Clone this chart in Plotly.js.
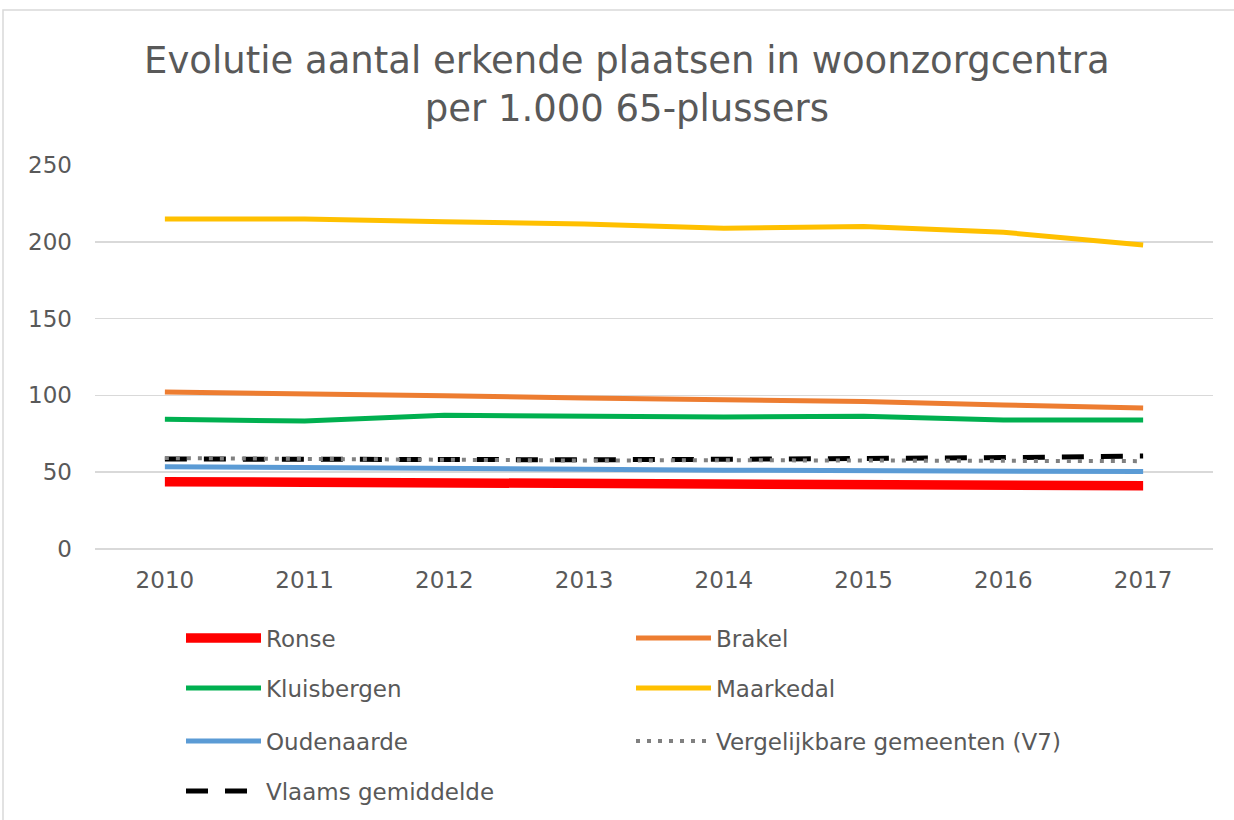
<!DOCTYPE html>
<html>
<head>
<meta charset="utf-8">
<script src="https://cdn.plot.ly/plotly-3.0.1.min.js"></script>
<style>html,body{margin:0;padding:0;background:#fff;}#chart{width:1234px;height:820px;}</style>
</head>
<body>
<div id="chart"></div>
<script>
const years = ["2010","2011","2012","2013","2014","2015","2016","2017"];
const ronse = [43.8, 43.6, 43.3, 42.8, 42.3, 42.0, 41.8, 41.2];
const brakel = [102.2, 101.4, 99.8, 98.3, 97.2, 96.0, 93.8, 91.8];
const kluisbergen = [84.4, 83.3, 87.0, 86.1, 86.0, 86.5, 84.0, 84.0];
const maarkedal = [214.8, 214.8, 213.1, 211.6, 208.8, 209.9, 206.2, 197.9];
const oudenaarde = [53.6, 53.3, 52.5, 51.9, 51.3, 51.0, 50.8, 50.4];
const v7 = [59.2, 58.6, 57.8, 57.6, 57.8, 57.8, 57.5, 57.2];
const vlaams = [58.6, 58.3, 58.0, 58.1, 58.4, 58.8, 59.5, 60.5];
const yTicks = [0, 50, 100, 150, 200, 250];

const FONT = "DejaVu Sans, Verdana, sans-serif";
const GRAY = "#595959";

function tr(name, y, color, width, dash, legend) {
  return {type:"scatter", mode:"lines", x: years, y: y, name: name,
    line:{color:color, width:width, dash:dash||"solid"}, legend: legend, hoverinfo:"skip"};
}

const data = [
  tr("Ronse", ronse, "#ff0000", 9.5, "solid", "legend"),
  tr("Brakel", brakel, "#ed7d31", 5, "solid", "legend"),
  tr("Kluisbergen", kluisbergen, "#00b050", 5, "solid", "legend2"),
  tr("Maarkedal", maarkedal, "#ffc000", 5, "solid", "legend2"),
  tr("Oudenaarde", oudenaarde, "#5b9bd5", 5, "solid", "legend3"),
  tr("Vlaams gemiddelde", vlaams, "#000000", 5, "22px,17px", "legend4"),
  tr("Vergelijkbare gemeenten (V7)", v7, "#808080", 4, "4px,7px", "legend3")
];

const plotL = 95, plotR = 21, plotT = 165, plotB = 271;
const plotW = 1234 - plotL - plotR, plotH = 820 - plotT - plotB;
function px2x(px){ return (px - plotL) / plotW; }
function px2y(py){ return (820 - plotB - py) / plotH; }

function leg(rowY){
  return {orientation:"h", x: px2x(181), xanchor:"left", y: px2y(rowY), yanchor:"middle",
    entrywidth: 360, entrywidthmode:"pixels", itemwidth: 75, traceorder:"normal",
    font:{family:FONT, size:23, color:GRAY}, bgcolor:"rgba(0,0,0,0)", borderwidth:0};
}

const layout = {
  width:1234, height:820,
  paper_bgcolor:"#ffffff", plot_bgcolor:"#ffffff",
  margin:{l:plotL, r:plotR, t:plotT, b:plotB, autoexpand:false},
  title:{text:"Evolutie aantal erkende plaatsen in woonzorgcentra<br>per 1.000 65-plussers",
    font:{family:FONT, size:37, color:GRAY}, x:0.508, xanchor:"center", y:0.911, yanchor:"middle"},
  xaxis:{type:"category", range:[-0.5, 7.5], showgrid:false, zeroline:false, showline:false, ticks:"",
    tickfont:{family:FONT, size:23, color:GRAY}, ticklabelstandoff:15},
  yaxis:{range:[0,250], tickvals:yTicks, ticktext:yTicks.map(String), showgrid:true, gridcolor:"#d9d9d9", gridwidth:1.5,
    zeroline:true, zerolinecolor:"#d9d9d9", zerolinewidth:1.5, showline:false, ticks:"",
    tickfont:{family:FONT, size:23, color:GRAY}, ticklabelstandoff:22},
  showlegend:true,
  legend: leg(638), legend2: leg(688), legend3: leg(741), legend4: leg(791),
  shapes:[{type:"rect", xref:"paper", yref:"paper", x0:px2x(3), x1:px2x(1260), y0:px2y(860), y1:px2y(10),
    line:{color:"#d9d9d9", width:1.5}, fillcolor:"rgba(0,0,0,0)", layer:"below"}]
};

Plotly.newPlot("chart", data, layout, {displayModeBar:false, staticPlot:true});
</script>
</body>
</html>
